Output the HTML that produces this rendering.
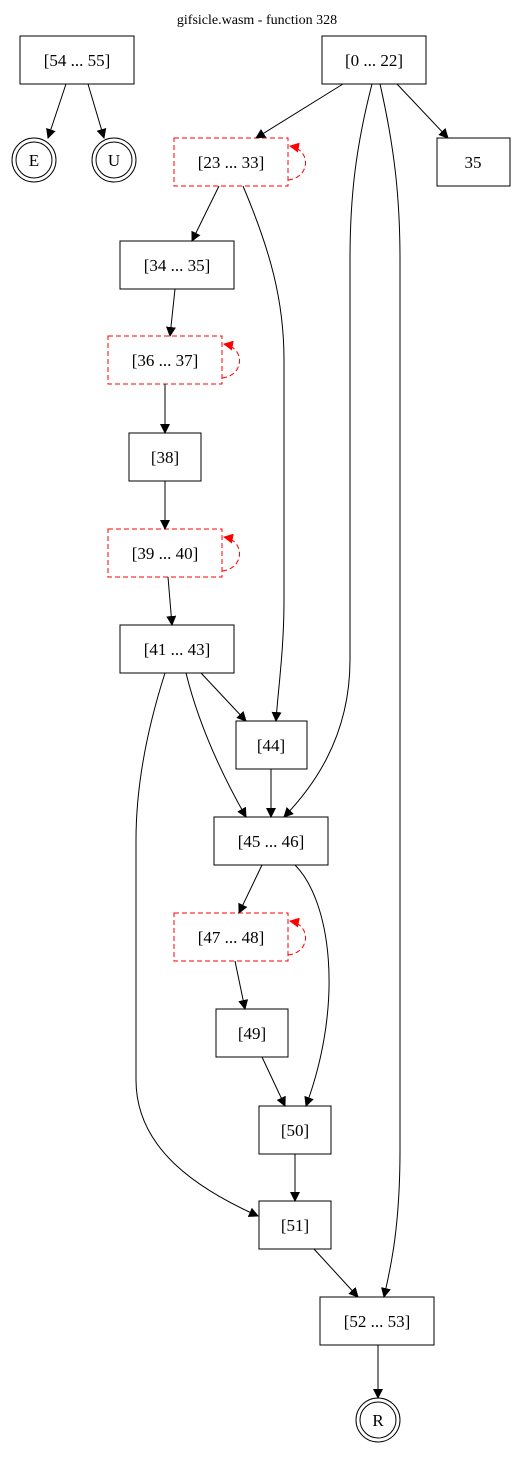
<!DOCTYPE html>
<html><head><meta charset="utf-8"><style>
html,body{margin:0;padding:0;background:#fff;}
svg{display:block;}
text{font-family:"Liberation Serif",serif;font-size:17px;text-anchor:middle;}
</style></head><body>
<svg width="515" height="1457" viewBox="0 0 515 1457" xmlns="http://www.w3.org/2000/svg">
<defs>
<marker id="a" viewBox="0 0 10 10" refX="9" refY="5" markerWidth="10" markerHeight="10" markerUnits="userSpaceOnUse" orient="auto"><path d="M0,0L10,5L0,10z" fill="#000"/></marker>
<marker id="r" viewBox="0 0 10 10" refX="9" refY="5" markerWidth="10" markerHeight="10" markerUnits="userSpaceOnUse" orient="auto"><path d="M0,0L10,5L0,10z" fill="red"/></marker>
</defs>
<text x="257" y="24" style="font-size:14px">gifsicle.wasm - function 328</text>
<g fill="none" stroke="#000" stroke-width="1">
<rect x="20" y="36" width="114" height="48"/>
<rect x="322" y="36" width="104" height="48"/>
<circle cx="34" cy="160" r="22"/><circle cx="34" cy="160" r="18"/>
<circle cx="114" cy="160" r="22"/><circle cx="114" cy="160" r="18"/>
<rect x="437" y="138" width="73" height="48"/>
<rect x="120" y="241" width="114" height="48"/>
<rect x="129" y="433" width="72" height="48"/>
<rect x="120" y="625" width="114" height="48"/>
<rect x="236" y="721" width="71" height="48"/>
<rect x="214" y="817" width="114" height="48"/>
<rect x="216" y="1009" width="72" height="48"/>
<rect x="259" y="1106" width="72" height="48"/>
<rect x="259" y="1201" width="72" height="48"/>
<rect x="320" y="1297" width="114" height="48"/>
<circle cx="378" cy="1420" r="22"/><circle cx="378" cy="1420" r="18"/>
</g>
<g fill="none" stroke="red" stroke-dasharray="5,3">
<rect x="174" y="138" width="114" height="48"/>
<rect x="108" y="336" width="114" height="48"/>
<rect x="108" y="529" width="114" height="48"/>
<rect x="174" y="913" width="114" height="48"/>
<path d="M288,180 C310,178 312,150 290,146" marker-end="url(#r)"/>
<path d="M222,378 C244,376 246,348 224,344" marker-end="url(#r)"/>
<path d="M222,571 C244,569 246,541 224,537" marker-end="url(#r)"/>
<path d="M288,955 C310,953 312,925 290,921" marker-end="url(#r)"/>
</g>
<g fill="none" stroke="#000">
<path d="M66,84 L48,138" marker-end="url(#a)"/>
<path d="M88,84 L104,138" marker-end="url(#a)"/>
<path d="M343,84 L256,138" marker-end="url(#a)"/>
<path d="M397,84 L448,138" marker-end="url(#a)"/>
<path d="M372,84 C355,150 350,200 350,260 L350,660 C350,740 310,790 284,817" marker-end="url(#a)"/>
<path d="M380,84 C395,150 400,200 400,260 L400,1150 C400,1230 390,1270 384,1297" marker-end="url(#a)"/>
<path d="M219,186 L192,241" marker-end="url(#a)"/>
<path d="M243,186 C270,250 284,300 284,360 L284,600 C284,650 278,690 276,721" marker-end="url(#a)"/>
<path d="M175,289 L170,336" marker-end="url(#a)"/>
<path d="M165,384 L165,433" marker-end="url(#a)"/>
<path d="M165,481 L165,529" marker-end="url(#a)"/>
<path d="M168,577 L172,625" marker-end="url(#a)"/>
<path d="M201,673 L246,721" marker-end="url(#a)"/>
<path d="M186,673 C200,730 225,780 246,817" marker-end="url(#a)"/>
<path d="M165,673 C150,720 136,780 136,840 L136,1080 C136,1150 200,1190 258,1216" marker-end="url(#a)"/>
<path d="M271,769 L271,817" marker-end="url(#a)"/>
<path d="M262,865 L239,913" marker-end="url(#a)"/>
<path d="M295,865 C330,900 345,1000 306,1106" marker-end="url(#a)"/>
<path d="M235,961 L245,1009" marker-end="url(#a)"/>
<path d="M262,1057 L285,1106" marker-end="url(#a)"/>
<path d="M295,1154 L295,1201" marker-end="url(#a)"/>
<path d="M314,1249 L358,1297" marker-end="url(#a)"/>
<path d="M378,1345 L378,1398" marker-end="url(#a)"/>
</g>
<text x="77" y="66">[54 ... 55]</text>
<text x="374" y="66">[0 ... 22]</text>
<text x="34" y="166">E</text>
<text x="114" y="166">U</text>
<text x="231" y="168">[23 ... 33]</text>
<text x="473" y="168">35</text>
<text x="177" y="271">[34 ... 35]</text>
<text x="165" y="366">[36 ... 37]</text>
<text x="165" y="463">[38]</text>
<text x="165" y="559">[39 ... 40]</text>
<text x="177" y="655">[41 ... 43]</text>
<text x="271" y="751">[44]</text>
<text x="271" y="847">[45 ... 46]</text>
<text x="231" y="943">[47 ... 48]</text>
<text x="252" y="1039">[49]</text>
<text x="295" y="1136">[50]</text>
<text x="295" y="1231">[51]</text>
<text x="377" y="1327">[52 ... 53]</text>
<text x="378" y="1426">R</text>
</svg>
</body></html>
